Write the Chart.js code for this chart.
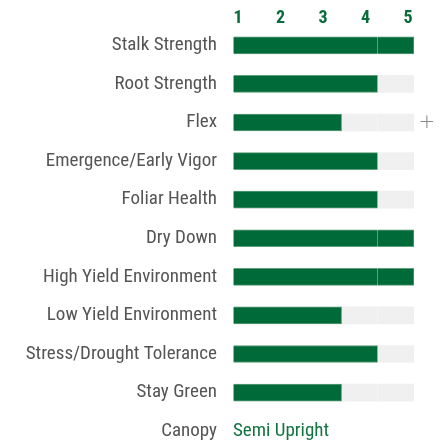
<!DOCTYPE html>
<html><head><meta charset="utf-8">
<style>html,body{margin:0;padding:0;overflow:hidden;background:#fff}#wrap{position:relative;width:446px;height:476px}</style>
<script src="https://cdn.jsdelivr.net/npm/chart.js@4"></script>
</head><body><div id="wrap"><canvas id="c"></canvas></div>
<script>
const categories = ['Stalk Strength','Root Strength','Flex','Emergence/Early Vigor','Foliar Health','Dry Down','High Yield Environment','Low Yield Environment','Stress/Drought Tolerance','Stay Green','Canopy'];
const ratings = [5,4,3,4,4,5,5,3,4,3,null];
const maxRating = [5,5,5,5,5,5,5,5,5,5,null];
const tickLabels = ['1','2','3','4','5'];
const canopyText = 'Semi Upright';

const FONT = "'Roboto Condensed','DejaVu Sans Condensed',sans-serif";

const extras = {
  id: 'extras',
  afterDatasetsDraw(chart) {
    const {ctx, scales: {x, y}, chartArea} = chart;
    ctx.save();
    const i = categories.indexOf('Canopy');
    ctx.font = '19px ' + FONT;
    ctx.fillStyle = '#13743f';
    ctx.textBaseline = 'middle';
    ctx.textAlign = 'left';
    ctx.fillText(canopyText, x.getPixelForValue(0), y.getPixelForValue(i));
    ctx.font = '300 20px DejaVu Sans';
    ctx.fillStyle = '#888';
    ctx.textAlign = 'center';
    ctx.fillText('+', chartArea.right + 13, y.getPixelForValue(2));
    ctx.restore();
  }
};

new Chart(document.getElementById('c'), {
  type: 'bar',
  data: {
    labels: categories,
    datasets: [
      {data: ratings, backgroundColor: '#006a39', borderColor: '#5f9f7a', borderWidth: 1, order: 0, grouped: false, barThickness: 17},
      {data: maxRating, backgroundColor: '#f0f0f0', borderWidth: 0, order: 1, grouped: false, barThickness: 17}
    ]
  },
  options: {
    indexAxis: 'y',
    responsive: true,
    maintainAspectRatio: false,
    animation: false,
    layout: {padding: {left: 0, right: 32, top: 0, bottom: 0}},
    plugins: {legend: {display: false}, tooltip: {enabled: false}},
    scales: {
      x: {
        min: 0, max: 5, position: 'bottom',
        ticks: {display: false, stepSize: 1},
        border: {display: false},
        grid: {drawTicks: false, z: 1, lineWidth: 1,
          color: c => (c.tick && c.tick.value === 4) ? 'rgba(255,255,255,0.35)' : 'rgba(0,0,0,0)'},
        afterFit(s) { s.height = 0; }
      },
      x2: {
        type: 'linear', position: 'top', min: 0.882, max: 5.141,
        afterBuildTicks(s) { s.ticks = tickLabels.map((t, i) => ({value: i + 1})); },
        ticks: {callback: (v, i) => tickLabels[i], autoSkip: false, maxRotation: 0, padding: -3,
          color: '#0a6b3a', font: {family: FONT, size: 18, weight: 'bold'}},
        grid: {display: false, drawTicks: false},
        border: {display: false},
        afterFit(s) { s.height = 26; }
      },
      y: {
        ticks: {color: '#555', padding: 16, font: {family: FONT, size: 19, lineHeight: 1}},
        grid: {display: false, drawTicks: false},
        border: {display: false},
        afterFit(s) { s.width = 233; }
      }
    }
  },
  plugins: [extras]
});
</script></body></html>
